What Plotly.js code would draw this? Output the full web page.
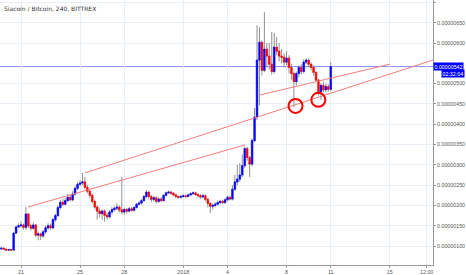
<!DOCTYPE html>
<html>
<head>
<meta charset="utf-8">
<script src="https://cdn.plot.ly/plotly-3.0.1.min.js"></script>
<style>html,body{margin:0;padding:0;background:#fff;}#chart{width:466px;height:275px;}</style>
</head>
<body>
<div id="chart"></div>
<script>
// 4-hour candles, Siacoin / Bitcoin (values in satoshi, 1e-8 BTC)
const startTime = '2017-12-19T16:00:00';
const stepHours = 4;
const openS  = [93,95,92,90,91,90,132,147,150,152,146,179,150,144,152,127,130,125,135,145,150,145,165,175,195,208,203,212,220,214,228,242,252,255,258,245,235,225,210,196,186,180,186,176,172,184,190,193,196,189,184,190,186,192,188,195,203,206,212,222,233,222,215,219,210,216,212,225,231,233,230,226,222,220,222,224,222,226,229,231,227,224,221,224,215,205,198,200,203,207,210,207,214,220,216,240,258,265,275,298,340,318,302,360,418,558,602,533,585,568,548,530,590,580,568,565,553,563,540,525,505,525,540,530,553,558,548,540,528,509,480,496,485,493,486];
const highS  = [97,96,94,93,93,134,150,156,160,155,196,182,155,158,154,135,133,140,150,156,155,170,180,200,214,216,218,228,226,235,248,258,262,280,270,250,240,230,214,200,192,190,190,182,188,196,198,205,200,270,194,194,196,196,198,206,210,216,226,238,235,226,224,222,220,220,228,234,236,236,233,229,224,226,227,227,229,232,234,234,230,228,228,227,218,208,205,208,212,214,214,218,224,224,250,275,300,304,325,345,344,322,365,440,644,639,606,676,600,600,627,625,615,600,585,575,580,570,548,530,530,545,548,560,562,562,552,545,530,512,500,505,500,498,553];
const lowS   = [91,90,88,88,89,89,130,144,146,140,140,145,138,140,122,114,115,120,130,140,140,142,160,172,190,198,200,208,210,210,224,238,248,250,240,230,218,205,190,165,170,165,160,165,168,178,185,188,183,178,176,180,183,184,185,192,200,202,208,218,215,208,210,205,206,208,210,222,228,226,222,218,216,217,219,218,220,224,226,224,220,216,218,210,195,181,190,196,200,203,203,204,210,212,212,236,250,258,270,292,310,270,296,355,410,447,520,528,540,535,521,525,570,555,550,540,545,525,510,442,495,515,522,525,548,540,532,520,505,470,460,478,480,480,482];
const closeS = [95,92,90,91,90,132,147,150,152,146,179,150,144,152,127,130,125,135,145,150,145,165,175,195,208,203,212,220,214,228,242,252,255,258,245,235,225,210,196,186,180,186,176,172,184,190,193,196,189,184,190,186,192,188,195,203,206,212,222,233,222,215,219,210,216,212,225,231,233,230,226,222,220,222,224,222,226,229,231,227,224,221,224,215,205,198,200,203,207,210,207,214,220,216,240,258,265,275,298,340,318,302,360,418,558,602,533,585,568,548,530,590,580,568,565,553,563,540,525,505,525,540,530,553,558,548,540,528,509,480,496,485,493,486,542];

// chart annotations (drawn trend lines, marked lows, last price)
const trendX0 = ['2017-12-21 11:24', '2017-12-25 08:10', '2018-01-06 04:50'];
const trendY0 = [196, 280, 472];
const trendX1 = ['2018-01-05 04:30', '2018-01-17 22:20', '2018-01-15 00:30'];
const trendY1 = [349, 558, 548];
const circleX = ['2018-01-08 14:40', '2018-01-10 03:50'];
const circleY = [445, 460];
const lastPrice = 542;
const countdown = '02:32:04';

const xTickVals = ['2017-12-21','2017-12-25','2017-12-28','2018-01-01','2018-01-04','2018-01-08','2018-01-11','2018-01-15','2018-01-17 12:00'];
const xTickText = ['21','25','28','2018','4','8','11','15','12:00'];
const yTickVals = [100,150,200,250,300,350,400,450,500,600,650,700]; // 550 hidden behind the price label
const title = 'Siacoin / Bitcoin, 240, BITTREX';

const SAT = 1e-8;
const t0 = new Date(startTime + 'Z').getTime();
const pad = n => String(n).padStart(2,'0');
const times = openS.map((_, i) => {
  const d = new Date(t0 + i * stepHours * 3600000);
  return d.getUTCFullYear() + '-' + pad(d.getUTCMonth()+1) + '-' + pad(d.getUTCDate()) + ' ' + pad(d.getUTCHours()) + ':00';
});
const o = openS.map(v => v * SAT), h = highS.map(v => v * SAT), l = lowS.map(v => v * SAT), c = closeS.map(v => v * SAT);
const bodyHi = o.map((v, i) => Math.max(v, c[i]));
const bodyLo = o.map((v, i) => Math.min(v, c[i]));

const BLUE = '#0000ff', RED = '#ff0000', WICK = '#909090';

const traces = [
  // wicks: zero-height box at the body bottom, whiskers low..high
  { type: 'candlestick', x: times, open: bodyLo, high: h, low: l, close: bodyLo,
    increasing: { line: { color: WICK, width: 1 }, fillcolor: WICK },
    decreasing: { line: { color: WICK, width: 1 }, fillcolor: WICK },
    hoverinfo: 'skip', showlegend: false },
  // bodies
  { type: 'candlestick', x: times, open: o, high: bodyHi, low: bodyLo, close: c,
    increasing: { line: { color: BLUE, width: 0.6 }, fillcolor: BLUE },
    decreasing: { line: { color: RED, width: 0.6 }, fillcolor: RED },
    hoverinfo: 'skip', showlegend: false }
];

const shapes = [];
shapes.push({ type: 'line', xref: 'paper', x0: 0, x1: 1, yref: 'y', y0: lastPrice * SAT, y1: lastPrice * SAT,
  line: { color: '#8d8dff', width: 1 }, layer: 'below' });
trendX0.forEach((x0, i) => shapes.push({ type: 'line', xref: 'x', yref: 'y', x0: x0, y0: trendY0[i] * SAT,
  x1: trendX1[i], y1: trendY1[i] * SAT, line: { color: '#f27c7c', width: 1 } }));
circleX.forEach((cx, i) => shapes.push({ type: 'circle', xref: 'x', yref: 'y', xsizemode: 'pixel', ysizemode: 'pixel',
  xanchor: cx, yanchor: circleY[i] * SAT, x0: -7, x1: 7, y0: -7, y1: 7, line: { color: '#ff0000', width: 2 } }));

const tickFont = { family: 'Liberation Sans, Arial, sans-serif', size: 5.3, color: '#555' };

const layout = {
  width: 466, height: 275,
  margin: { l: 0, r: 33, t: 0, b: 10, pad: 0 },
  paper_bgcolor: '#ffffff', plot_bgcolor: '#ffffff',
  showlegend: false, hovermode: false, boxgap: 0.04, boxmode: 'overlay',
  xaxis: { type: 'date', range: ['2017-12-19 13:50', '2018-01-17 22:20'],
    tickmode: 'array', tickvals: xTickVals, ticktext: xTickText,
    showgrid: true, gridcolor: '#e8eef5', gridwidth: 1, zeroline: false,
    showline: true, linecolor: '#9a9a9a', linewidth: 1,
    ticks: 'outside', ticklen: 2, tickcolor: '#9a9a9a',
    tickfont: tickFont, rangeslider: { visible: false }, fixedrange: true },
  yaxis: { side: 'right', range: [53.2 * SAT, 705.9 * SAT],
    tickmode: 'array', tickvals: yTickVals.map(v => v * SAT),
    tickformat: '.8f', showgrid: true, gridcolor: '#e8eef5', gridwidth: 1, zeroline: false,
    showline: true, linecolor: '#9a9a9a', linewidth: 1,
    ticks: 'outside', ticklen: 2, tickcolor: '#9a9a9a', tickfont: tickFont, fixedrange: true },
  shapes: shapes,
  annotations: [
    { xref: 'paper', yref: 'paper', x: 0, y: 1, xanchor: 'left', yanchor: 'top', xshift: 2, yshift: -3,
      text: title, showarrow: false, font: { family: 'DejaVu Sans, sans-serif', size: 6, color: '#333' } },
    { xref: 'paper', yref: 'y', x: 1, y: lastPrice * SAT, xanchor: 'left', yanchor: 'middle', xshift: 0,
      text: (lastPrice * SAT).toFixed(8), showarrow: false, bgcolor: BLUE, borderpad: 0.5,
      font: { family: 'Liberation Sans, Arial, sans-serif', size: 5.3, color: '#ffffff' } },
    { xref: 'paper', yref: 'y', x: 1, y: lastPrice * SAT, xanchor: 'left', yanchor: 'middle', xshift: 8, yshift: -7,
      text: countdown, showarrow: false, bgcolor: BLUE, borderpad: 0.5,
      font: { family: 'Liberation Sans, Arial, sans-serif', size: 5.3, color: '#ffffff' } }
  ]
};

Plotly.newPlot('chart', traces, layout, { staticPlot: true, displayModeBar: false });
</script>
</body>
</html>
